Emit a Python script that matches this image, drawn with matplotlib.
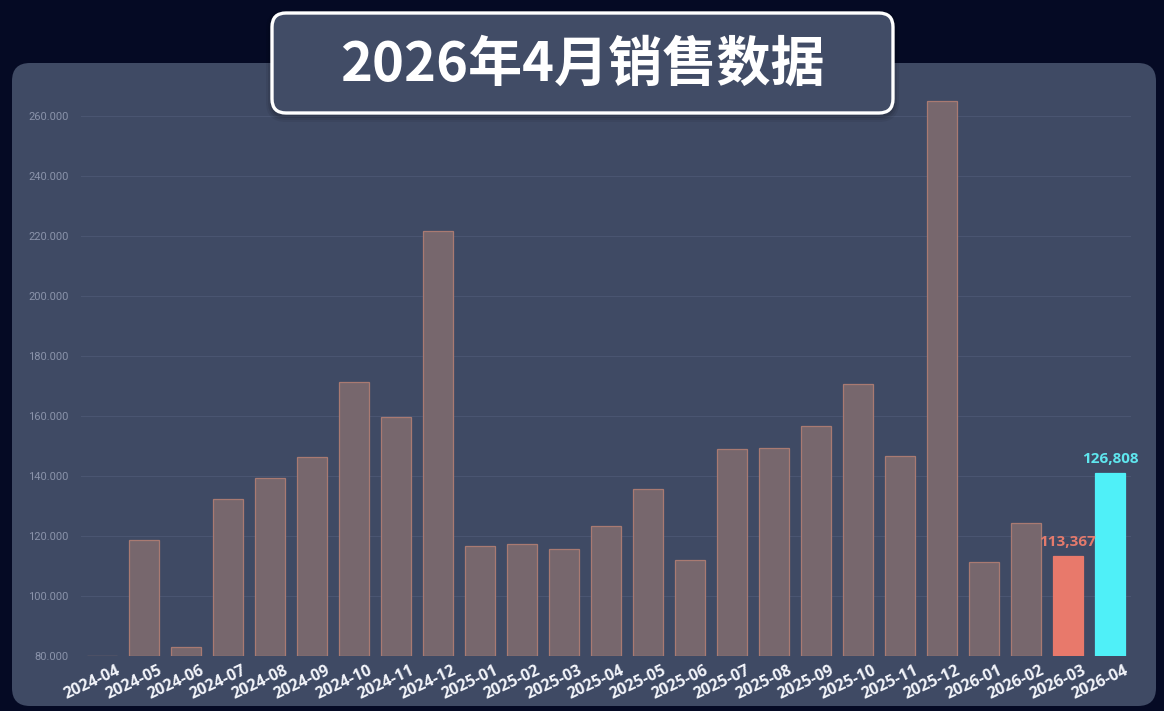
import matplotlib
matplotlib.use("Agg")
import matplotlib.pyplot as plt
from matplotlib.patches import FancyBboxPatch
from matplotlib.transforms import ScaledTranslation

plt.rcParams['font.family'] = ['Noto Sans CJK SC', 'DejaVu Sans']

# ---- data ----
months = ["2024-04", "2024-05", "2024-06", "2024-07", "2024-08", "2024-09",
          "2024-10", "2024-11", "2024-12", "2025-01", "2025-02", "2025-03",
          "2025-04", "2025-05", "2025-06", "2025-07", "2025-08", "2025-09",
          "2025-10", "2025-11", "2025-12", "2026-01", "2026-02", "2026-03",
          "2026-04"]
sales = [80000, 118667, 83000, 132333, 139333, 146333,
         171333, 159667, 221667, 116667, 117333, 115667,
         123333, 135667, 112000, 149000, 149333, 156667,
         170667, 146667, 265000, 111333, 124333, 113367,
         141000]
highlight_labels = {23: "113,367", 24: "126,808"}
yticks = [80000, 100000, 120000, 140000, 160000, 180000, 200000, 220000, 240000, 260000]
title = "2026年4月销售数据"

# ---- styles ----
W, H = 1164, 711
outer_bg = "#050a24"
panel_bg = "#3f4a64"
bar_fill = "#77676d"
bar_edge = "#a97a72"
hl_colors = {23: "#e8796b", 24: "#4ff0f8"}
hl_text = {23: "#e47a6c", 24: "#5fe6ee"}
label_font = ["Open Sans", "DejaVu Sans"]
tick_font = ["Roboto", "DejaVu Sans"]

fig = plt.figure(figsize=(W / 100, H / 100), dpi=100, facecolor=outer_bg)

# background panel
bg = fig.add_axes([0, 0, 1, 1], zorder=0)
bg.set_xlim(0, W)
bg.set_ylim(H, 0)
bg.axis("off")
r = 18
px0, py0, px1, py1 = 12, 63, 1156, 706
bg.add_patch(FancyBboxPatch((px0 + r, py0 + r), (px1 - px0) - 2 * r, (py1 - py0) - 2 * r,
                            boxstyle=f"round,pad={r}", facecolor=panel_bg,
                            edgecolor="none"))

# chart axes
ax_left, ax_right = 81, 1131
ax_top, ax_bottom = 95, 656
ax = fig.add_axes([ax_left / W, 1 - ax_bottom / H, (ax_right - ax_left) / W,
                   (ax_bottom - ax_top) / H], zorder=1)
ax.set_facecolor("none")
ax.set_xlim(-0.5, len(months) - 0.5)
ax.set_ylim(80000, 267000)

x = list(range(len(months)))
colors = [hl_colors.get(i, bar_fill) for i in x]
edges = [hl_colors.get(i, bar_edge) for i in x]
ax.bar(x, [v - 80000 for v in sales], bottom=80000, width=0.71,
       color=colors, edgecolor=edges, linewidth=0.9, zorder=3)

for i, txt in highlight_labels.items():
    ax.annotate(txt, (i, sales[i]), xytext=(0, 5), textcoords="offset points",
                ha="center", va="bottom", color=hl_text[i], fontsize=11,
                fontweight="bold", family=label_font, zorder=4)

ax.set_yticks(yticks)
ax.set_yticklabels([f"{v:,}".replace(",", ".") for v in yticks],
                   fontsize=8, color="#8a93aa", family=tick_font)
ax.yaxis.grid(True, color="#4a5571", linewidth=0.8, zorder=0)
ax.tick_params(axis="y", length=0, pad=9)

ax.set_xticks(x)
ax.set_xticklabels(months, rotation=25, ha="right", va="top", rotation_mode="anchor",
                   fontsize=11.5, fontweight="bold", color="#f2f4fa",
                   family=label_font)
ax.tick_params(axis="x", length=0, pad=5)
offset = ScaledTranslation(10 / 72, 0, fig.dpi_scale_trans)
for lbl in ax.get_xticklabels():
    lbl.set_transform(lbl.get_transform() + offset)

for s in ax.spines.values():
    s.set_visible(False)

# title box overlay
ov = fig.add_axes([0, 0, 1, 1], zorder=5)
ov.set_xlim(0, W)
ov.set_ylim(H, 0)
ov.axis("off")
tr = 14
bx0, by0, bx1, by1 = 272, 13, 893, 113
for k, a in [(6, 0.06), (4, 0.08), (2, 0.10)]:
    ov.add_patch(FancyBboxPatch((bx0 + tr, by0 + tr + 3), (bx1 - bx0) - 2 * tr, (by1 - by0) - 2 * tr,
                                boxstyle=f"round,pad={tr + k}", facecolor="black",
                                edgecolor="none", alpha=a))
ov.add_patch(FancyBboxPatch((bx0 + tr, by0 + tr), (bx1 - bx0) - 2 * tr, (by1 - by0) - 2 * tr,
                            boxstyle=f"round,pad={tr}", facecolor="#414c66",
                            edgecolor="white", linewidth=2.4))
ov.text((bx0 + bx1) / 2, (by0 + by1) / 2 + 2, title, ha="center", va="center",
        color="white", fontsize=39, fontweight="black")

fig.savefig("out.png", dpi=100, facecolor=outer_bg)
